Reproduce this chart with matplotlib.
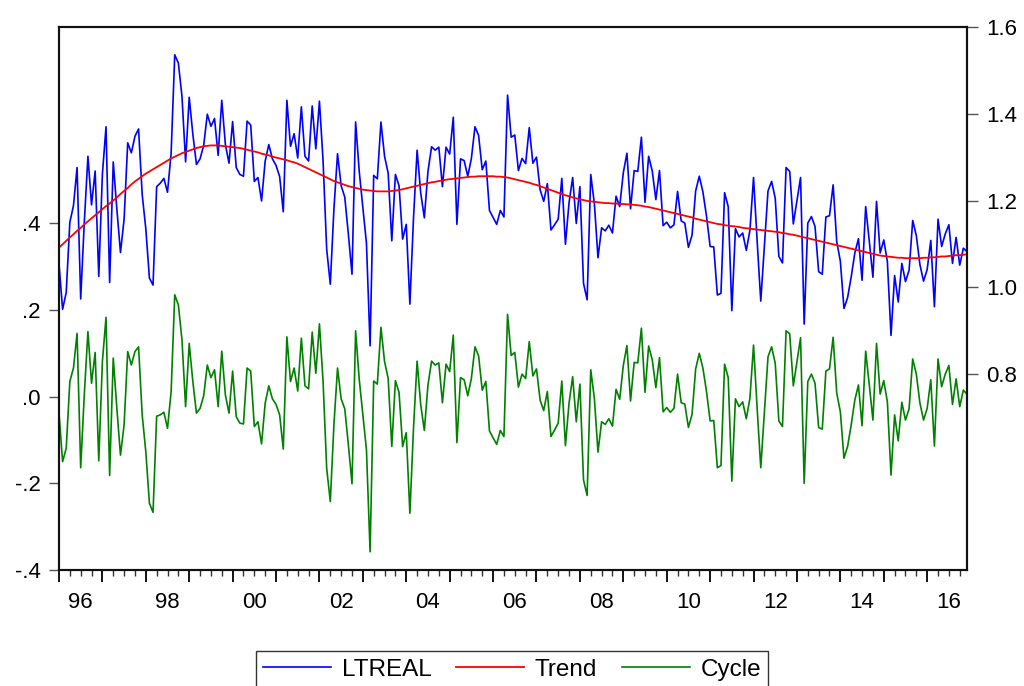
import numpy as np
import matplotlib
matplotlib.use("Agg")
import matplotlib.pyplot as plt
from matplotlib.ticker import FixedLocator

plt.rcParams['font.family'] = ['Liberation Sans', 'DejaVu Sans']

# monthly sample 1996m01 - 2016m12
years = list(range(1996, 2017))
year_labels = ["96", "98", "00", "02", "04", "06", "08", "10", "12", "14", "16"]

# HP trend of LTREAL (right axis), one row per year
trend = [
    1.092, 1.099, 1.107, 1.115, 1.122, 1.130, 1.137, 1.145, 1.152, 1.159, 1.166, 1.173,
    1.180, 1.187, 1.193, 1.200, 1.207, 1.215, 1.222, 1.229, 1.237, 1.244, 1.250, 1.256,
    1.262, 1.267, 1.272, 1.277, 1.282, 1.287, 1.292, 1.297, 1.301, 1.305, 1.309, 1.312,
    1.315, 1.318, 1.321, 1.323, 1.325, 1.326, 1.327, 1.327, 1.327, 1.326, 1.325, 1.324,
    1.323, 1.322, 1.321, 1.319, 1.317, 1.315, 1.313, 1.311, 1.308, 1.306, 1.304, 1.301,
    1.299, 1.297, 1.295, 1.293, 1.290, 1.288, 1.285, 1.281, 1.277, 1.273, 1.269, 1.265,
    1.261, 1.257, 1.253, 1.249, 1.245, 1.242, 1.239, 1.236, 1.233, 1.231, 1.229, 1.227,
    1.225, 1.224, 1.223, 1.222, 1.221, 1.221, 1.221, 1.221, 1.222, 1.223, 1.224, 1.226,
    1.228, 1.230, 1.232, 1.234, 1.236, 1.238, 1.240, 1.242, 1.243, 1.245, 1.246, 1.248,
    1.249, 1.250, 1.251, 1.252, 1.253, 1.254, 1.255, 1.255, 1.256, 1.256, 1.256, 1.256,
    1.256, 1.255, 1.255, 1.254, 1.253, 1.251, 1.249, 1.247, 1.245, 1.243, 1.241, 1.238,
    1.236, 1.233, 1.230, 1.227, 1.224, 1.221, 1.218, 1.215, 1.212, 1.210, 1.207, 1.205,
    1.203, 1.201, 1.199, 1.198, 1.197, 1.196, 1.195, 1.194, 1.194, 1.193, 1.193, 1.192,
    1.192, 1.191, 1.191, 1.190, 1.189, 1.188, 1.186, 1.185, 1.183, 1.181, 1.179, 1.177,
    1.175, 1.173, 1.171, 1.169, 1.167, 1.165, 1.163, 1.161, 1.158, 1.156, 1.154, 1.152,
    1.150, 1.148, 1.146, 1.145, 1.143, 1.142, 1.141, 1.140, 1.139, 1.137, 1.136, 1.135,
    1.134, 1.133, 1.132, 1.131, 1.130, 1.129, 1.128, 1.127, 1.125, 1.124, 1.122, 1.121,
    1.119, 1.117, 1.115, 1.113, 1.111, 1.109, 1.107, 1.105, 1.103, 1.101, 1.099, 1.097,
    1.095, 1.093, 1.091, 1.089, 1.087, 1.085, 1.083, 1.081, 1.079, 1.077, 1.075, 1.073,
    1.072, 1.071, 1.070, 1.069, 1.068, 1.068, 1.067, 1.067, 1.067, 1.067, 1.067, 1.068,
    1.068, 1.069, 1.069, 1.070, 1.071, 1.071, 1.072, 1.073, 1.074, 1.074, 1.075, 1.076,
]

# cyclical component (left axis)
cycle = [
    -0.038, -0.150, -0.119, 0.035, 0.066, 0.146, -0.164, 0.005, 0.150, 0.031, 0.102, -0.148,
    0.081, 0.183, -0.182, 0.089, -0.027, -0.135, -0.065, 0.104, 0.073, 0.104, 0.115, -0.042,
    -0.127, -0.246, -0.267, -0.045, -0.042, -0.036, -0.073, 0.012, 0.235, 0.212, 0.131, -0.023,
    0.123, 0.035, -0.038, -0.027, 0.002, 0.073, 0.044, 0.062, -0.023, 0.105, 0.004, -0.038,
    0.059, -0.046, -0.061, -0.063, 0.066, 0.059, -0.069, -0.058, -0.109, -0.015, 0.025, -0.005,
    -0.018, -0.042, -0.121, 0.138, 0.035, 0.066, 0.013, 0.135, 0.025, 0.018, 0.149, 0.054,
    0.168, 0.035, -0.165, -0.242, -0.065, 0.066, -0.005, -0.028, -0.111, -0.201, 0.152, 0.040,
    -0.042, -0.123, -0.358, 0.036, 0.029, 0.160, 0.081, 0.042, -0.115, 0.037, 0.010, -0.115,
    -0.083, -0.269, -0.073, 0.082, -0.019, -0.078, 0.027, 0.082, 0.073, 0.078, -0.014, 0.075,
    0.058, 0.142, -0.106, 0.044, 0.039, 0.002, 0.042, 0.115, 0.094, 0.015, 0.035, -0.079,
    -0.095, -0.110, -0.078, -0.092, 0.190, 0.095, 0.102, 0.022, 0.052, 0.042, 0.127, 0.048,
    0.064, -0.008, -0.032, 0.012, -0.092, -0.077, -0.061, 0.036, -0.113, -0.015, 0.046, -0.058,
    0.029, -0.192, -0.228, 0.062, -0.004, -0.128, -0.058, -0.064, -0.051, -0.068, 0.017, -0.006,
    0.072, 0.118, -0.010, 0.079, 0.078, 0.158, 0.010, 0.117, 0.085, 0.021, 0.090, -0.035,
    -0.025, -0.036, -0.027, 0.052, -0.014, -0.017, -0.071, -0.041, 0.064, 0.100, 0.066, 0.012,
    -0.056, -0.055, -0.164, -0.159, 0.075, 0.044, -0.195, -0.005, -0.023, -0.012, -0.051, -0.004,
    0.119, -0.027, -0.164, -0.035, 0.092, 0.115, 0.077, -0.056, -0.069, 0.152, 0.145, 0.025,
    0.081, 0.136, -0.200, 0.035, 0.052, 0.031, -0.071, -0.075, 0.059, 0.064, 0.137, 0.008,
    -0.035, -0.142, -0.115, -0.065, -0.008, 0.027, -0.067, 0.105, 0.027, -0.054, 0.123, 0.006,
    0.037, -0.012, -0.181, -0.042, -0.102, -0.013, -0.054, -0.028, 0.087, 0.052, -0.015, -0.054,
    -0.027, 0.039, -0.114, 0.087, 0.023, 0.052, 0.072, -0.018, 0.041, -0.023, 0.015, 0.006,
]

trend = np.array(trend)
cycle = np.array(cycle)
ltreal = trend + cycle  # cycle is ltreal - trend
t = np.arange(len(trend))

left_ticks = [-0.4, -0.2, 0.0, 0.2, 0.4]
left_labels = ["-.4", "-.2", ".0", ".2", ".4"]
right_ticks = [0.8, 1.0, 1.2, 1.4, 1.6]
right_labels = ["0.8", "1.0", "1.2", "1.4", "1.6"]

fig = plt.figure(figsize=(10.24, 6.86), dpi=100)
ax = fig.add_axes([0.0576, 0.1691, 0.8867, 0.7915])
ax2 = ax.twinx()

l3, = ax.plot(t, cycle, color='#008000', lw=1.2)
l1, = ax2.plot(t, ltreal, color='#0000ff', lw=1.2)
l2, = ax2.plot(t, trend, color='#ff0000', lw=1.3)

ax.set_xlim(0, len(t) - 1)
ax.set_ylim(-0.4, 0.853)
ax2.set_ylim(0.348, 1.6)

ax.set_yticks(left_ticks)
ax.set_yticklabels(left_labels)
ax2.set_yticks(right_ticks)
ax2.set_yticklabels(right_labels)

# year ticks long, quarter ticks short, labels mid-year every 2 years
ax.xaxis.set_major_locator(FixedLocator([12 * k for k in range(len(years))]))
ax.xaxis.set_minor_locator(FixedLocator([12 * k + q for k in range(len(years)) for q in (3, 6, 9)]))
ax.set_xticklabels([])
ax.tick_params(axis='x', which='major', direction='out', length=8.5, width=1.3, color='black')
ax.tick_params(axis='x', which='minor', direction='out', length=4.3, width=1.0, color='#333333')
for k, lab in enumerate(year_labels):
    ax.text(24 * k + 6, -0.04, lab, transform=ax.get_xaxis_transform(),
            ha='center', va='top', fontsize=16)

ax.tick_params(axis='y', direction='out', length=7, width=1.0, color='#555555',
               labelsize=16, pad=6)
ax2.tick_params(axis='y', direction='out', length=8, width=1.0, color='#555555',
                labelsize=16, pad=6)

for a in (ax, ax2):
    for s in a.spines.values():
        s.set_linewidth(1.5)
        s.set_color('#111111')

leg = fig.legend([l1, l2, l3], ["LTREAL", "Trend", "Cycle"], loc='center',
                 bbox_to_anchor=(0.5, 0.024), ncol=3, fontsize=17.5, frameon=True,
                 fancybox=False, edgecolor='black', handlelength=2.8,
                 columnspacing=1.0, handletextpad=0.45, borderpad=0.3)
leg.get_frame().set_linewidth(1.0)

fig.savefig("out.png", dpi=100)
